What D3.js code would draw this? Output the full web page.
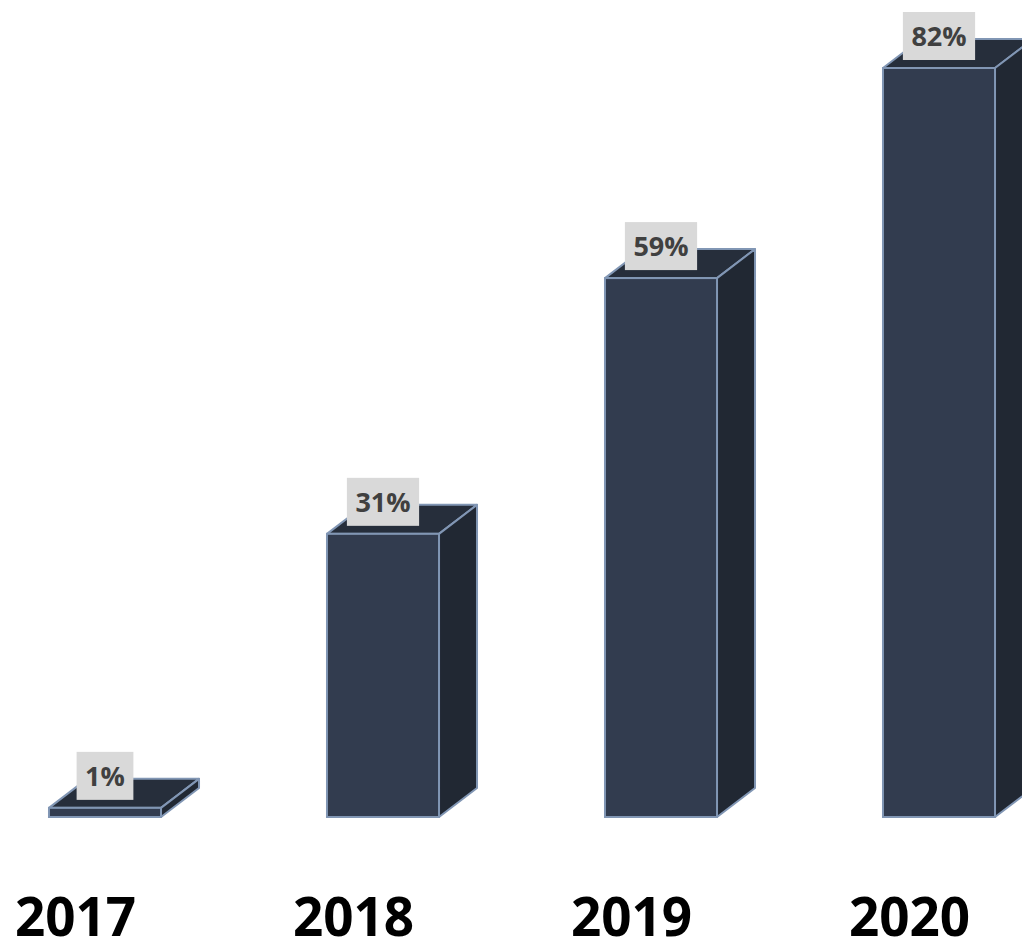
<!DOCTYPE html>
<html>
<head>
<meta charset="utf-8">
<script src="https://cdn.jsdelivr.net/npm/d3@7"></script>
<style>
  html, body { margin: 0; padding: 0; background: #fff; }
  svg { display: block; }
</style>
</head>
<body>
<svg id="chart" width="1022" height="945"></svg>
<script>
// Share by year
const years = ["2017", "2018", "2019", "2020"];
const shares = [1, 31, 59, 82];
const valueLabels = ["1%", "31%", "59%", "82%"];

const W = 1022, H = 945;
const baseY = 817;
const depthX = 38, depthY = -29;

const svg = d3.select("#chart");

const x = d3.scaleBand()
  .domain(years)
  .range([-34, 1078])
  .paddingInner(0.597)
  .paddingOuter(0.2985);

const y = d3.scaleLinear()
  .domain([0, 82])
  .range([baseY, 68]);

const colFront = "#323c4f";
const colSide = "#212833";
const colTop = "#262e3b";
const colEdge = "#8196b4";

const data = years.map((yr, i) => ({ year: yr, value: shares[i], label: valueLabels[i] }));

const bars = svg.append("g").selectAll("g.bar")
  .data(data)
  .join("g")
  .attr("class", "bar");

bars.each(function(d) {
  const g = d3.select(this);
  const x0 = x(d.year), x1 = x0 + x.bandwidth();
  const yt = y(d.value), yb = y(0);
  const pts = a => a.map(p => p.join(",")).join(" ");

  // top face
  g.append("polygon")
    .attr("points", pts([[x0, yt], [x0 + depthX, yt + depthY], [x1 + depthX, yt + depthY], [x1, yt]]))
    .attr("fill", colTop).attr("stroke", colEdge).attr("stroke-width", 2).attr("stroke-linejoin", "round");
  // side face
  g.append("polygon")
    .attr("points", pts([[x1, yt], [x1 + depthX, yt + depthY], [x1 + depthX, yb + depthY], [x1, yb]]))
    .attr("fill", colSide).attr("stroke", colEdge).attr("stroke-width", 2).attr("stroke-linejoin", "round");
  // front face
  g.append("rect")
    .attr("x", x0).attr("y", yt)
    .attr("width", x.bandwidth()).attr("height", yb - yt)
    .attr("fill", colFront).attr("stroke", colEdge).attr("stroke-width", 2);

  // value label with grey box
  const cx = x0 + x.bandwidth() / 2;
  const lg = g.append("g");
  const box = lg.append("rect").attr("fill", "#d9d9d9");
  const t = lg.append("text")
    .attr("x", cx)
    .attr("y", yt - 8 - 14)
    .attr("text-anchor", "middle")
    .attr("font-family", "'Open Sans', sans-serif")
    .attr("font-weight", 700)
    .attr("font-size", 27)
    .attr("fill", "#404040")
    .text(d.label);
  const tw = t.node().getComputedTextLength();
  const bw = tw + 17, bh = 48;
  box.attr("x", cx - bw / 2).attr("y", yt - 8 - bh).attr("width", bw).attr("height", bh);
});

// category labels
svg.append("g").selectAll("text")
  .data(years)
  .join("text")
  .attr("x", d => x(d) + x.bandwidth() / 2 - 29.5)
  .attr("y", 936)
  .attr("text-anchor", "middle")
  .attr("font-family", "'Open Sans', sans-serif")
  .attr("font-weight", 700)
  .attr("font-size", 53)
  .attr("fill", "#000")
  .text(d => d);
</script>
</body>
</html>
